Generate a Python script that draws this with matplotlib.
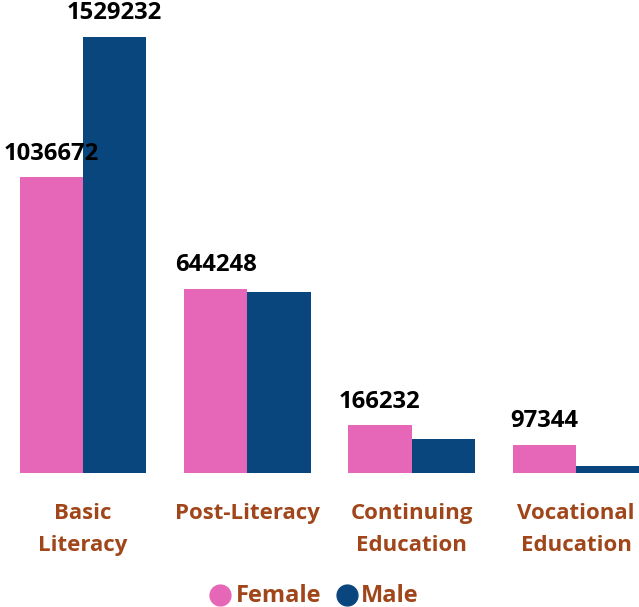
import matplotlib
matplotlib.use("Agg")
import matplotlib.pyplot as plt
import numpy as np
from matplotlib.lines import Line2D

categories = ["Basic\nLiteracy", "Post-Literacy", "Continuing\nEducation", "Vocational\nEducation"]
female = [1036672, 644248, 166232, 97344]
male = [1529232, 634000, 118000, 23500]
female_labels = ["1036672", "644248", "166232", "97344"]
male_labels = ["1529232", "", "", ""]
series = ["Female", "Male"]

pink = "#E667B7"
navy = "#0A467E"
brown = "#A0461A"
font = "Open Sans"

W, H = 639, 607
fig = plt.figure(figsize=(W / 100, H / 100), dpi=100)
x0_px, unit_px = 83.0, 164.33
left_px = 0.8
base_px = 472.7
ax = fig.add_axes([left_px / W, 1 - base_px / H, (W - left_px) / W, base_px / H])
xmin = (left_px - x0_px) / unit_px
xmax = (W - x0_px) / unit_px
ax.set_xlim(xmin, xmax)
ax.set_ylim(0, 1659000)
ax.axis("off")

x = np.arange(len(categories))
bw = 0.386
ax.bar(x - bw / 2, female, bw, color=pink)
ax.bar(x + bw / 2, male, bw, color=navy)

for off, vals, labs in ((-bw / 2, female, female_labels), (bw / 2, male, male_labels)):
    for xi, v, lab in zip(x, vals, labs):
        if lab:
            ax.annotate(lab, (xi + off, v), xytext=(0, 8.5), textcoords="offset points",
                        ha="center", va="bottom", fontsize=17.2, fontweight="bold",
                        family=font, color="#000000")

for xi, c in zip(x, categories):
    ax.annotate(c, (xi, 0), xytext=(0, -22), textcoords="offset points",
                ha="center", va="top", fontsize=16, fontweight="bold",
                family=font, color=brown, linespacing=1.7)

# legend (manual placement)
leg_y = 1 - 595 / H
for cx, tx, col, name in ((220, 236, pink, series[0]), (347, 361, navy, series[1])):
    fig.add_artist(Line2D([cx / W], [leg_y], marker="o", markersize=15, color=col,
                          linestyle="", transform=fig.transFigure))
    fig.text(tx / W, 1 - 602 / H, name, ha="left", va="baseline", fontsize=17,
             fontweight="bold", family=font, color=brown)

fig.savefig("out.png", dpi=100)
